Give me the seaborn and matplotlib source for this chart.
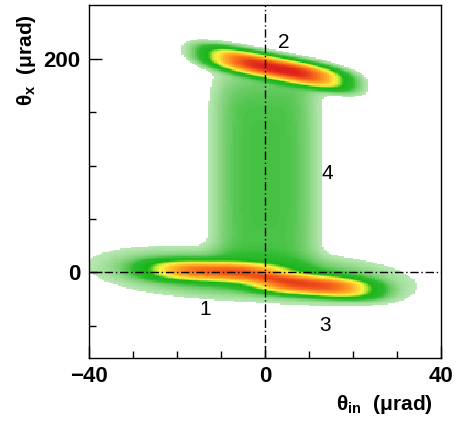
import numpy as np
import pandas as pd
import matplotlib
matplotlib.use("Agg")
import matplotlib.pyplot as plt
from matplotlib.colors import LinearSegmentedColormap
import seaborn as sns

# ---- values (theta_in, theta_x in urad) ----
# elongated peaks: 1 = left, 2 = channeling, 3 = volume reflection, plus halos
peak_names = ["1", "2", "3", "tail13", "halo2"]
peak_cx = [-11.0, 2.5, 10.5, -3.0, 2.0]
peak_cy = [1.0, 191.0, -12.0, -3.0, 192.0]
peak_slope = [-0.12, -0.8, -0.3, -0.25, -0.8]
peak_len = [11.0, 11.5, 10.0, 23.0, 15.0]
peak_wid = [6.5, 7.5, 6.5, 12.0, 10.0]
peak_pow = [3.0, 3.5, 3.0, 3.0, 4.0]
peak_wpow = [2.6, 2.8, 2.6, 2.0, 2.0]
peak_amp = [0.72, 1.0, 0.82, 0.17, 0.05]

# dechanneling band (4)
band_cx = 0.0
band_halfwidth = 9.5
band_y_lo = 0.0
band_y_hi = 185.0
band_amp = 0.11

label_text = ["1", "2", "3", "4"]
label_x = [-13.5, 4.3, 13.7, 14.2]
label_y = [-35.0, 215.0, -50.0, 93.0]

x_range = [-40, 40]
y_range = [-80, 250]

# ---- grid of bin centres ----
dx, dy = 0.5, 1.25
xc = np.arange(x_range[0] + dx / 2, x_range[1], dx)
yc = np.arange(y_range[0] + dy / 2, y_range[1], dy)
X, Y = np.meshgrid(xc, yc)
Z = np.zeros_like(X)
for cx, cy, s, L, W, p, q, A in zip(peak_cx, peak_cy, peak_slope, peak_len, peak_wid,
                                     peak_pow, peak_wpow, peak_amp):
    u = X - cx
    v = (Y - cy) - s * u
    Z += A * np.exp(-0.5 * np.abs(u / L) ** p - 0.5 * np.abs(v / W) ** q)
ymid = 0.5 * (band_y_lo + band_y_hi)
yhalf = 0.5 * (band_y_hi - band_y_lo)
Z += band_amp * np.exp(-0.5 * ((X - band_cx) / band_halfwidth) ** 4) * np.exp(-((Y - ymid) / yhalf) ** 8)

df = pd.DataFrame({"x": X.ravel(), "y": Y.ravel(), "w": Z.ravel()})

cmap = LinearSegmentedColormap.from_list("rootish", [
    (0.00, (0.82, 0.94, 0.80)),
    (0.05, (0.55, 0.84, 0.52)),
    (0.12, (0.18, 0.73, 0.18)),
    (0.25, (0.10, 0.70, 0.10)),
    (0.34, (0.70, 0.90, 0.20)),
    (0.42, (1.00, 0.95, 0.25)),
    (0.60, (1.00, 0.68, 0.15)),
    (0.82, (0.97, 0.40, 0.10)),
    (1.00, (0.86, 0.12, 0.10)),
])

plt.rcParams["mathtext.fontset"] = "custom"
plt.rcParams["mathtext.rm"] = "Liberation Sans:bold"
plt.rcParams["mathtext.it"] = "Liberation Sans:bold"
plt.rcParams["mathtext.bf"] = "Liberation Sans:bold"

fig = plt.figure(figsize=(4.57, 4.25), dpi=100)
ax = fig.add_axes([0.1947, 0.1576, 0.7703, 0.8304])

xedges = np.arange(x_range[0], x_range[1] + dx / 2, dx)
yedges = np.arange(y_range[0], y_range[1] + dy / 2, dy)
sns.histplot(data=df, x="x", y="y", weights="w", bins=[xedges, yedges],
             cmap=cmap, thresh=0.02, ax=ax)

ax.axvline(0, color="black", lw=1.0, ls=(0, (6, 2, 1, 2)))
ax.axhline(0, color="black", lw=1.0, ls=(0, (6, 2, 1, 2)))

for t, lx, ly in zip(label_text, label_x, label_y):
    ax.text(lx, ly, t, fontsize=15, family="Liberation Sans", ha="center", va="center")

ax.set_xlim(*x_range)
ax.set_ylim(*y_range)
ax.set_xticks([-40, 0, 40])
ax.set_xticks(np.arange(-30, 40, 10), minor=True)
ax.set_yticks([0, 200])
ax.set_yticks([-50, 50, 100, 150], minor=True)
ax.tick_params(direction="in", which="major", length=9, width=1, top=False, right=False, pad=6)
ax.tick_params(direction="in", which="minor", length=5, width=1, top=False, right=False)
for lab in ax.get_xticklabels() + ax.get_yticklabels():
    lab.set_fontfamily("Liberation Sans")
    lab.set_fontweight("bold")
    lab.set_fontsize(16)
for sp in ax.spines.values():
    sp.set_linewidth(1.0)
    sp.set_color("black")

ax.set_xlabel("")
ax.set_ylabel("")
fig.text(0.948, 0.02, r"$\mathrm{\theta_{in}}$  $\mathrm{(\mu rad)}$", fontsize=15,
         ha="right", va="bottom", family="Liberation Sans")
fig.text(0.058, 0.968, r"$\mathrm{\theta_{x}}$  $\mathrm{(\mu rad)}$", fontsize=15,
         ha="center", va="top", rotation=90, family="Liberation Sans")

fig.savefig("out.png", dpi=100)
